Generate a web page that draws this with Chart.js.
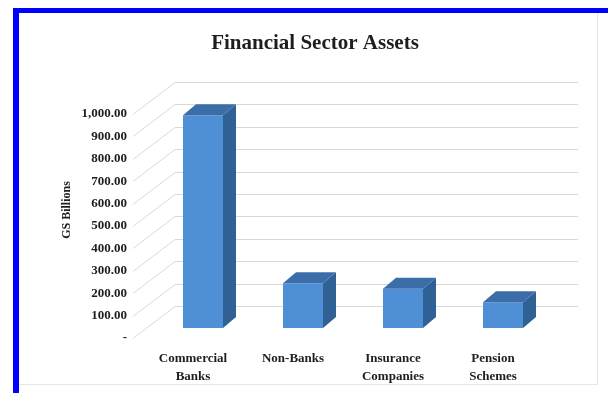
<!DOCTYPE html>
<html>
<head>
<meta charset="utf-8">
<title>Financial Sector Assets</title>
<script src="https://cdn.jsdelivr.net/npm/chart.js@4.4.1/dist/chart.umd.min.js"></script>
<style>
  html, body { margin: 0; padding: 0; background: #ffffff; width: 608px; height: 393px; overflow: hidden; }
  #frame { position: absolute; left: 13px; top: 8px; width: 640px; height: 420px;
           border-left: 6px solid #0000ff; border-top: 5px solid #0000ff; }
  #inner { position: absolute; left: 19px; top: 13px; width: 578px; height: 371px;
           border-right: 1px solid #e6e6e6; border-bottom: 1px solid #e6e6e6; }
  #wrap { position: absolute; left: 0; top: 0; width: 608px; height: 393px; }
</style>
</head>
<body>
<div id="frame"></div>
<div id="inner"></div>
<div id="wrap"><canvas id="chart" width="608" height="393"></canvas></div>
<script>
// Chart data
const categories = [['Commercial', 'Banks'], 'Non-Banks', ['Insurance', 'Companies'], ['Pension', 'Schemes']];
const assets = [950, 200, 175, 115];
const yTickLabels = ['-', '100.00', '200.00', '300.00', '400.00', '500.00',
                     '600.00', '700.00', '800.00', '900.00', '1,000.00'];
const chartTitle = 'Financial Sector Assets';
const yAxisTitle = 'GS Billions';

// 3D look: back wall offset and box depth, in pixels
const WALL = { frontInset: 10, dxLeft: 32, dxRight: 35, dy: -32 };
const BOX = { dx: 10, dy: -10, depthX: 13, depthY: -11 };
const COLORS = { front: '#4f8fd6', side: '#2f6194', top: '#3b6ea8', grid: '#d9d9d9', text: '#1e1e1e' };
const SERIF = "'Liberation Serif', 'Times New Roman', serif";

// Back wall gridlines and left wall diagonals
const wallPlugin = {
  id: 'walls',
  beforeDatasetsDraw(chart) {
    const { ctx, chartArea, scales } = chart;
    const y = scales.y;
    ctx.save();
    ctx.strokeStyle = COLORS.grid;
    ctx.lineWidth = 1;
    y.ticks.forEach(t => {
      const py = Math.round(y.getPixelForValue(t.value)) + 0.5;
      ctx.beginPath();
      ctx.moveTo(chartArea.left + WALL.dxLeft, py + WALL.dy);
      ctx.lineTo(chartArea.right + WALL.dxRight, py + WALL.dy);
      ctx.stroke();
      ctx.beginPath();
      ctx.moveTo(chartArea.left - WALL.frontInset, py);
      ctx.lineTo(chartArea.left + WALL.dxLeft, py + WALL.dy);
      ctx.stroke();
    });
    ctx.restore();
  }
};

// Shift the bars back into the scene and add their top and side faces
const boxPlugin = {
  id: 'boxes',
  beforeDatasetsDraw(chart) {
    chart.ctx.save();
    chart.ctx.translate(BOX.dx, BOX.dy);
  },
  afterDatasetsDraw(chart) {
    const ctx = chart.ctx;
    chart.getDatasetMeta(0).data.forEach(bar => {
      const { x, y, base, width } = bar.getProps(['x', 'y', 'base', 'width'], true);
      const l = x - width / 2, r = x + width / 2;
      ctx.fillStyle = COLORS.side;
      ctx.beginPath();
      ctx.moveTo(r, y);
      ctx.lineTo(r + BOX.depthX, y + BOX.depthY);
      ctx.lineTo(r + BOX.depthX, base + BOX.depthY);
      ctx.lineTo(r, base);
      ctx.closePath();
      ctx.fill();
      ctx.fillStyle = COLORS.top;
      ctx.beginPath();
      ctx.moveTo(l, y);
      ctx.lineTo(l + BOX.depthX, y + BOX.depthY);
      ctx.lineTo(r + BOX.depthX, y + BOX.depthY);
      ctx.lineTo(r, y);
      ctx.closePath();
      ctx.fill();
    });
    ctx.restore();
  }
};

// Chart title and rotated value-axis title
const titlesPlugin = {
  id: 'titles',
  afterDraw(chart) {
    const ctx = chart.ctx;
    ctx.save();
    ctx.fillStyle = COLORS.text;
    ctx.textAlign = 'center';
    ctx.textBaseline = 'middle';
    ctx.font = 'bold 21px ' + SERIF;
    ctx.fillText(chartTitle, 315, 44);
    ctx.translate(67, 210);
    ctx.rotate(-Math.PI / 2);
    ctx.font = 'bold 12px ' + SERIF;
    ctx.fillText(yAxisTitle, 0, 0);
    ctx.restore();
  }
};

new Chart(document.getElementById('chart'), {
  type: 'bar',
  data: {
    labels: categories,
    datasets: [{
      data: assets,
      backgroundColor: COLORS.front,
      borderWidth: 0,
      barPercentage: 0.4,
      categoryPercentage: 1.0,
      clip: false
    }]
  },
  options: {
    responsive: false,
    animation: false,
    events: [],
    layout: { padding: { left: 0, right: 65, top: 114, bottom: 0 } },
    plugins: {
      legend: { display: false },
      tooltip: { enabled: false },
      title: { display: false }
    },
    scales: {
      x: {
        grid: { display: false },
        border: { display: false },
        ticks: {
          color: COLORS.text,
          font: { family: SERIF, size: 13, weight: 'bold', lineHeight: '18px' },
          padding: 4,
          maxRotation: 0,
          autoSkip: false
        },
        afterFit(scale) { scale.height = 55; }
      },
      y: {
        min: 0,
        max: 1000,
        grid: { display: false, drawTicks: false },
        border: { display: false },
        ticks: {
          stepSize: 100,
          color: COLORS.text,
          font: { family: SERIF, size: 13, weight: 'bold' },
          padding: 16,
          callback: (value, index) => yTickLabels[index]
        },
        afterFit(scale) { scale.width = 143; }
      }
    }
  },
  plugins: [wallPlugin, boxPlugin, titlesPlugin]
});
</script>
</body>
</html>
